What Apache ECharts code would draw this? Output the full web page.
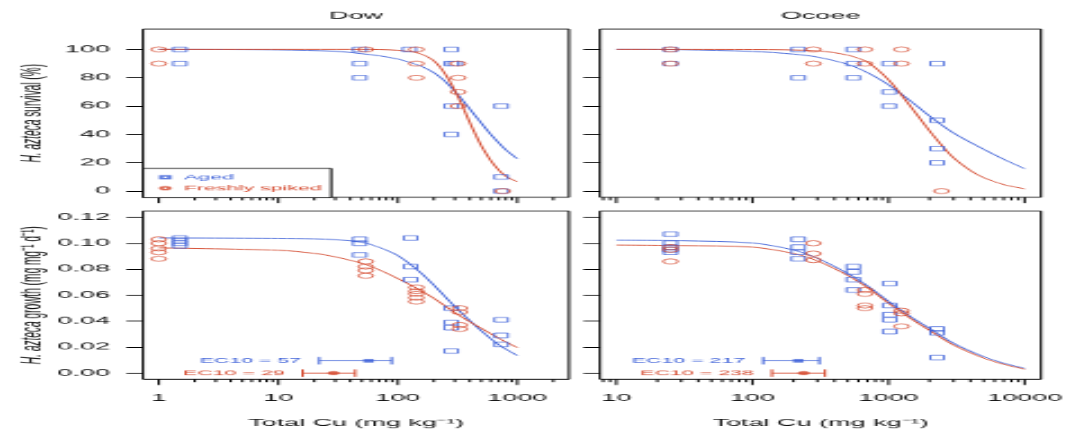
<!DOCTYPE html>
<html><head><meta charset="utf-8">
<script src="https://cdn.jsdelivr.net/npm/echarts@6/dist/echarts.min.js"></script>
<style>
html,body{margin:0;padding:0;background:#fff;overflow:hidden;width:1065px;height:432px;}
#chart{position:absolute;left:0;top:0;transform-origin:0 0;}
</style></head><body><div id="chart"></div>
<script>
// ---------------- DATA ----------------
const panelTitles = ['Dow', 'Ocoee'];
const xTickLabelsDow = [1, 10, 100, 1000];
const xMinorDow = [2,3,4,5,6,7,8,9,20,30,40,50,60,70,80,90,200,300,400,500,600,700,800,900,2000];
const xTickLabelsOco = [10, 100, 1000, 10000];
const xMinorOco = [8,9,20,30,40,50,60,70,80,90,200,300,400,500,600,700,800,900,2000,3000,4000,5000,6000,7000,8000,9000];
const survTicks = [0, 20, 40, 60, 80, 100];
const growTicks = [0, 0.02, 0.04, 0.06, 0.08, 0.10, 0.12];

// Survival (%)
const dowSurvAgedX = [1.5,1.5, 48,48,48, 125, 280,280,280,280, 300, 733,733,733];
const dowSurvAgedY = [100,90, 100,90,80, 100, 100,90,60,40, 90, 60,10,0];
const dowSurvFreshX = [1,1, 54, 143,143,143, 320,320,320,320, 757];
const dowSurvFreshY = [100,90, 100, 100,90,80, 90,80,70,60, 0];
const ocoSurvAgedX = [25,25, 217,217, 551,551,551, 1012,1012,1012, 2275,2275,2275,2275];
const ocoSurvAgedY = [100,90, 100,80, 100,90,80, 90,70,60, 90,50,30,20];
const ocoSurvFreshX = [25,25, 280,280, 670,670, 1245,1245, 2450];
const ocoSurvFreshY = [100,90, 100,90, 100,90, 100,90, 0];

// Survival fitted curves
const dowSurvAgedFitX = [1, 10, 30, 50, 70, 100, 150, 200, 250, 300, 350, 400, 500, 600, 700, 800, 1000];
const dowSurvAgedFitY = [100, 99.7, 98.7, 97, 95.5, 93.2, 88.8, 83.6, 77.3, 70.5, 64, 58, 48, 40, 34, 29.2, 22.8];
const dowSurvFreshFitX = [1, 50, 100, 150, 200, 250, 300, 350, 400, 450, 500, 600, 700, 800, 900, 1000];
const dowSurvFreshFitY = [100, 100, 99.4, 97.3, 92, 82.5, 71, 59.5, 48.5, 39.5, 32, 21.5, 14.8, 10.5, 8.2, 6.6];
const ocoSurvAgedFitX = [10, 30, 100, 200, 300, 500, 700, 1000, 1500, 2000, 3000, 5000, 7000, 10000];
const ocoSurvAgedFitY = [100, 99.8, 98.6, 96.7, 94.6, 89.5, 83.6, 75, 62.5, 53, 41, 29.5, 22.5, 15.8];
const ocoSurvFreshFitX = [10, 100, 300, 500, 700, 1000, 1300, 1600, 2000, 2500, 3000, 4000, 5000, 7000, 10000];
const ocoSurvFreshFitY = [100, 99.9, 99, 96, 91, 78.5, 65.5, 54.5, 42.5, 31.5, 23.5, 14.5, 9.5, 4.6, 1.6];

// Growth (mg mg-1 d-1)
const dowGrowAgedX = [1.5,1.5,1.5,1.5, 48,48,48, 128,128,128, 280,280,280,280, 733,733,733];
const dowGrowAgedY = [0.104,0.102,0.100,0.098, 0.103,0.100,0.091, 0.104,0.082,0.072, 0.050,0.039,0.035,0.017, 0.041,0.029,0.022];
const dowGrowFreshX = [1,1,1,1,1, 54,54,54,54, 143,143,143,143,143, 330,330,330,330];
const dowGrowFreshY = [0.103,0.100,0.096,0.093,0.088, 0.086,0.082,0.079,0.075, 0.066,0.063,0.061,0.058,0.055, 0.050,0.047,0.037,0.034];
const ocoGrowAgedX = [25,25,25,25,25, 217,217,217,217, 551,551,551,551, 1020,1020,1020,1020,1020, 2275,2275,2275];
const ocoGrowAgedY = [0.107,0.100,0.097,0.095,0.093, 0.103,0.097,0.093,0.088, 0.082,0.078,0.072,0.064, 0.069,0.052,0.045,0.041,0.032, 0.034,0.031,0.012];
const ocoGrowFreshX = [25,25,25, 280,280,280, 670,670,670,670, 1245,1245,1245];
const ocoGrowFreshY = [0.097,0.095,0.086, 0.100,0.092,0.087, 0.064,0.061,0.052,0.050, 0.048,0.046,0.036];

// Growth fitted curves
const dowGrowFitX = [1, 10, 20, 30, 50, 70, 100, 150, 200, 300, 400, 500, 700, 1000];
const dowGrowAgedFitY = [0.1041, 0.1038, 0.1034, 0.1027, 0.1008, 0.0968, 0.0905, 0.0785, 0.0678, 0.0512, 0.0405, 0.0325, 0.0218, 0.0135];
const dowGrowFreshFitY = [0.0964, 0.0946, 0.0922, 0.0895, 0.0845, 0.0795, 0.0728, 0.0644, 0.0576, 0.0466, 0.0395, 0.0345, 0.0268, 0.0196];
const ocoGrowFitX = [10, 30, 100, 200, 300, 500, 700, 1000, 1500, 2000, 3000, 5000, 7000, 10000];
const ocoGrowAgedFitY = [0.1023, 0.1019, 0.1002, 0.0948, 0.0884, 0.0768, 0.0672, 0.0552, 0.0425, 0.0345, 0.0230, 0.0127, 0.0077, 0.0037];
const ocoGrowFreshFitY = [0.0986, 0.0982, 0.0970, 0.0921, 0.0864, 0.0753, 0.0658, 0.0538, 0.0411, 0.0329, 0.0216, 0.0115, 0.0068, 0.0030];

// EC10 estimates with confidence limits: [Aged, Freshly spiked]
const dowEc10 = [57, 29];
const dowEc10Lo = [22, 16];
const dowEc10Hi = [89, 44];
const ocoEc10 = [217, 238];
const ocoEc10Lo = [120, 139];
const ocoEc10Hi = [310, 341];
const ec10Row = [0.0095, 0.0];

// ---------------- LAYOUT / STYLE ----------------
const SX = 2.25, SY = 0.78;             // reference is a stretched raster
const W = 1065 / SX, H = 432 / SY;
const bx = v => v / SX, by = v => v / SY;
const BLUE = '#3a5ed8', RED = '#d4462a', INK = '#111';
const FONT = 'Liberation Sans, Arial, sans-serif';
const el = document.getElementById('chart');
el.style.width = W + 'px'; el.style.height = H + 'px';
el.style.transform = 'scale(' + SX + ',' + SY + ')';

const PXs = [[143, 569], [600, 1041]];
const PYs = [[29, 197.3], [211, 379.3]];
const xRanges = [[0.738, 2710], [7.59, 13183]];
const yRanges = [[-4.4, 114.4], [-0.0048, 0.1248]];

const zip = (xs, ys) => xs.map((x, i) => [x, ys[i]]);
const isPow10 = v => { const l = Math.log10(v); return Math.abs(l - Math.round(l)) < 1e-6; };

const grids = [], xAxes = [], yAxes = [];
for (let r = 0; r < 2; r++) for (let c = 0; c < 2; c++) {
  const i = r * 2 + c;
  grids.push({
    left: bx(PXs[c][0]), width: bx(PXs[c][1] - PXs[c][0]),
    top: by(PYs[r][0]), height: by(PYs[r][1] - PYs[r][0]),
    show: true, borderColor: '#000', borderWidth: 1, backgroundColor: 'transparent',
    containLabel: false, outerBoundsMode: 'none'
  });
  xAxes.push({
    type: 'log', logBase: 10, gridIndex: i, min: xRanges[c][0], max: xRanges[c][1],
    axisLine: { show: false }, axisTick: { show: false }, splitLine: { show: false }, minorTick: { show: false },
    axisLabel: { show: r === 1, margin: 18, fontSize: 12, color: INK, fontFamily: FONT,
      formatter: v => isPow10(v) ? String(Math.round(v)) : '' },
    name: r === 1 ? 'Total Cu (mg kg\u207B\u00B9)' : '', nameLocation: 'middle', nameGap: 50.5,
    nameMoveOverlap: false,
    nameTextStyle: { fontSize: 12, color: INK, fontFamily: FONT }
  });
  const ticks = r === 0 ? survTicks : growTicks;
  yAxes.push({
    type: 'value', gridIndex: i, min: yRanges[r][0], max: yRanges[r][1],
    axisLine: { show: false }, splitLine: { show: false },
    axisTick: { show: true, length: 7.4, customValues: ticks, lineStyle: { color: '#000', width: 1 } },
    axisLabel: { show: c === 0, customValues: ticks, margin: 14.7, fontSize: 12, color: INK, fontFamily: FONT,
      formatter: v => r === 0 ? String(Math.round(v)) : v.toFixed(2) },
    name: c === 0 ? (r === 0 ? '{i|H. azteca} survival (%)' : '{i|H. azteca} growth (mg mg\u207B\u00B9 d\u207B\u00B9)') : '',
    nameLocation: 'middle', nameRotate: 90, nameGap: 42.5, nameMoveOverlap: false,
    nameTextStyle: { fontSize: 13, color: INK, fontFamily: FONT,
      rich: { i: { fontStyle: 'italic', fontSize: 13, color: INK, fontFamily: FONT } } }
  });
}

function scatter(name, i, xs, ys, isAged) {
  return {
    type: 'scatter', name, xAxisIndex: i, yAxisIndex: i, data: zip(xs, ys),
    symbol: isAged ? 'rect' : 'circle', symbolSize: isAged ? 6 : 6.6,
    itemStyle: { color: 'rgba(0,0,0,0)', borderColor: isAged ? BLUE : RED, borderWidth: 1 },
    emphasis: { disabled: true }, z: 3
  };
}
function fit(name, i, xs, ys, color) {
  return {
    type: 'line', name, xAxisIndex: i, yAxisIndex: i, data: zip(xs, ys),
    showSymbol: false, smooth: 0.3,
    lineStyle: { color, width: 1 }, itemStyle: { color }, emphasis: { disabled: true }, z: 2
  };
}
function xTicks(i, majors, minors) {
  const data = majors.map(v => [v, 1]).concat(minors.map(v => [v, 0]));
  return {
    type: 'custom', name: 'xticks' + i, xAxisIndex: i, yAxisIndex: i, clip: false, silent: true, z: 5,
    data, encode: { x: 0 },
    renderItem(params, api) {
      const x = api.coord([api.value(0), 0])[0];
      const y0 = params.coordSys.y + params.coordSys.height;
      const len = api.value(1) ? 7.3 : 3.8;
      return { type: 'line', shape: { x1: x, y1: y0, x2: x, y2: y0 + len }, style: { stroke: '#000', lineWidth: 1 } };
    }
  };
}
function ecBars(i, ec, lo, hi) {
  const data = ec.map((v, k) => [lo[k], hi[k], ec10Row[k], v, k]);
  return {
    type: 'custom', name: 'EC10 CI ' + i, xAxisIndex: i, yAxisIndex: i, clip: false, silent: true, z: 4,
    data, encode: { x: [0, 1], y: 2 },
    renderItem(params, api) {
      const a = api.coord([api.value(0), api.value(2)]);
      const b = api.coord([api.value(1), api.value(2)]);
      const col = api.value(4) === 0 ? BLUE : RED;
      const h = 4.8;
      const st = { stroke: col, lineWidth: 1 };
      return { type: 'group', children: [
        { type: 'line', shape: { x1: a[0], y1: a[1], x2: b[0], y2: b[1] }, style: st },
        { type: 'line', shape: { x1: a[0], y1: a[1] - h, x2: a[0], y2: a[1] + h }, style: st },
        { type: 'line', shape: { x1: b[0], y1: b[1] - h, x2: b[0], y2: b[1] + h }, style: st },
        { type: 'text', x: a[0] - 8, y: a[1], style: { text: 'EC10 = ' + api.value(3), align: 'right', verticalAlign: 'middle',
            fill: col, font: '9.5px ' + FONT } }
      ] };
    }
  };
}
function ecPoint(name, i, ec, k) {
  return {
    type: 'scatter', name, xAxisIndex: i, yAxisIndex: i, data: [[ec[k], ec10Row[k]]],
    symbol: k === 0 ? 'rect' : 'circle', symbolSize: k === 0 ? 4.6 : 5.2,
    itemStyle: { color: k === 0 ? BLUE : RED }, emphasis: { disabled: true }, z: 6
  };
}

const series = [
  scatter('Aged', 0, dowSurvAgedX, dowSurvAgedY, true),
  scatter('Freshly spiked', 0, dowSurvFreshX, dowSurvFreshY, false),
  fit('Aged fit Dow survival', 0, dowSurvAgedFitX, dowSurvAgedFitY, BLUE),
  fit('Fresh fit Dow survival', 0, dowSurvFreshFitX, dowSurvFreshFitY, RED),
  scatter('Aged', 1, ocoSurvAgedX, ocoSurvAgedY, true),
  scatter('Freshly spiked', 1, ocoSurvFreshX, ocoSurvFreshY, false),
  fit('Aged fit Ocoee survival', 1, ocoSurvAgedFitX, ocoSurvAgedFitY, BLUE),
  fit('Fresh fit Ocoee survival', 1, ocoSurvFreshFitX, ocoSurvFreshFitY, RED),
  scatter('Aged', 2, dowGrowAgedX, dowGrowAgedY, true),
  scatter('Freshly spiked', 2, dowGrowFreshX, dowGrowFreshY, false),
  fit('Aged fit Dow growth', 2, dowGrowFitX, dowGrowAgedFitY, BLUE),
  fit('Fresh fit Dow growth', 2, dowGrowFitX, dowGrowFreshFitY, RED),
  scatter('Aged', 3, ocoGrowAgedX, ocoGrowAgedY, true),
  scatter('Freshly spiked', 3, ocoGrowFreshX, ocoGrowFreshY, false),
  fit('Aged fit Ocoee growth', 3, ocoGrowFitX, ocoGrowAgedFitY, BLUE),
  fit('Fresh fit Ocoee growth', 3, ocoGrowFitX, ocoGrowFreshFitY, RED),
  ecBars(2, dowEc10, dowEc10Lo, dowEc10Hi),
  ecPoint('EC10 Aged Dow', 2, dowEc10, 0),
  ecPoint('EC10 Fresh Dow', 2, dowEc10, 1),
  ecBars(3, ocoEc10, ocoEc10Lo, ocoEc10Hi),
  ecPoint('EC10 Aged Ocoee', 3, ocoEc10, 0),
  ecPoint('EC10 Fresh Ocoee', 3, ocoEc10, 1),
  xTicks(0, xTickLabelsDow, xMinorDow),
  xTicks(1, xTickLabelsOco, xMinorOco),
  xTicks(2, xTickLabelsDow, xMinorDow),
  xTicks(3, xTickLabelsOco, xMinorOco)
];

const chart = echarts.init(el, null, { renderer: 'canvas' });
chart.setOption({
  animation: false,
  backgroundColor: '#fff',
  textStyle: { fontFamily: FONT },
  grid: grids, xAxis: xAxes, yAxis: yAxes,
  legend: {
    show: true, orient: 'vertical', left: bx(143), top: by(168.3),
    padding: [4.5, 4.2, 5.2, 7.1], itemGap: 0, itemWidth: 3.6, itemHeight: 3.6,
    borderColor: '#000', borderWidth: 1, backgroundColor: '#fff', selectedMode: false,
    textStyle: { fontSize: 9.5, lineHeight: 14, fontFamily: FONT, padding: [0, 0, 0, 1.5] },
    data: [
      { name: 'Aged', textStyle: { color: BLUE } },
      { name: 'Freshly spiked', textStyle: { color: RED } }
    ]
  },
  graphic: panelTitles.map((t, c) => ({
    type: 'text', x: bx((PXs[c][0] + PXs[c][1]) / 2), y: by(16), silent: true,
    style: { text: t, align: 'center', verticalAlign: 'middle', font: '12px ' + FONT, fill: INK }
  })),
  series
});
</script></body></html>
